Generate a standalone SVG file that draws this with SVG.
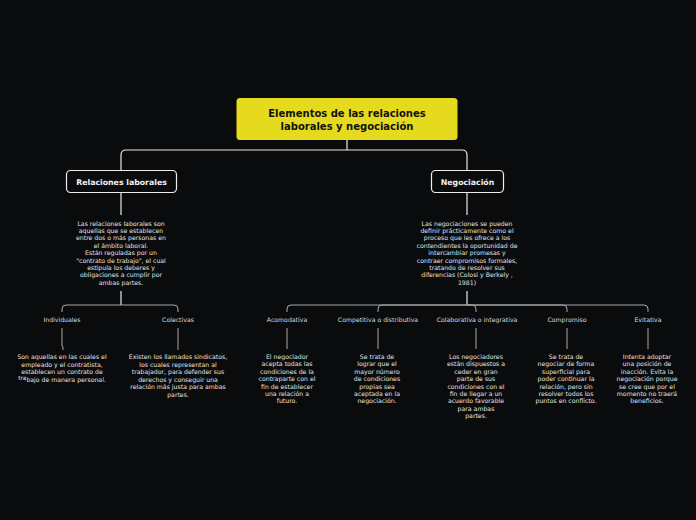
<svg xmlns="http://www.w3.org/2000/svg" width="696" height="520" viewBox="0 0 696 520">
<style>
.bg{fill:#0a0b0d}
.c1{fill:none;stroke:#e8e8e8;stroke-width:1.2}
.c2{fill:none;stroke:#a8a8a8;stroke-width:1}
.box{fill:#0a0b0d;stroke:#ededed;stroke-width:1.2}
.root{fill:#e6da1e}
.rt{font-family:"DejaVu Sans",Verdana,sans-serif;font-weight:bold;font-size:10px;fill:#111;text-anchor:middle}
.bt{font-family:"DejaVu Sans",Verdana,sans-serif;font-weight:bold;font-size:7.8px;fill:#f2f2f2;text-anchor:middle}
.lb{font-family:"DejaVu Sans",Verdana,sans-serif;font-size:6.2px;fill:#dcdcdc;text-anchor:middle}
.tx{font-family:"DejaVu Sans",Verdana,sans-serif;font-size:6.2px;fill:#e4e4e4;text-anchor:middle}
</style>
<rect class="bg" x="0" y="0" width="696" height="520"/>
<g id="connectors">
<path class="c1" d="M347,140 V150 M347,150 H126 Q121,150 121,155 V171 M347,150 H462 Q467,150 467,155 V171"/>
<path class="c1" d="M121,192 V215 M121,291 V305 M467,192 V215 M467,291 V305"/>
<path class="c2" d="M121,305 H66 Q62,305 62,309 V312 M121,305 H174 Q178,305 178,309 V312"/>
<path class="c2" d="M467,305 H291 Q287,305 287,309 V312 M467,305 H382 Q378,305 378,309 V312 M467,305 H472 Q476,305 476,309 V312 M467,305 H563 Q567,305 567,309 V312 M467,305 H644 Q648,305 648,309 V312"/>
<path class="c2" d="M62,328 V346 L63,347 V350 M178,328 V350 M287,328 V349 M378,328 V349 M476,328 V349 M567,328 V349 M648,328 V349"/>
</g>
<g id="root">
<rect class="root" x="236.5" y="98" width="221" height="42" rx="3.5"/>
<text class="rt" x="347" y="117">Elementos de las relaciones</text>
<text class="rt" x="347" y="129.5">laborales y negociación</text>
</g>
<g id="relaciones">
<rect class="box" x="66.5" y="170.5" width="110" height="22" rx="4"/>
<text class="bt" x="121.5" y="184.5">Relaciones laborales</text>
</g>
<g id="relaciones-texto">
<text class="tx" x="121" y="225.5">Las relaciones laborales son</text>
<text class="tx" x="121" y="232.9">aquellas que se establecen</text>
<text class="tx" x="121" y="240.3">entre dos o más personas en</text>
<text class="tx" x="121" y="247.7">el ámbito laboral.</text>
<text class="tx" x="121" y="255.1">Están reguladas por un</text>
<text class="tx" x="121" y="262.5">"contrato de trabajo", el cual</text>
<text class="tx" x="121" y="269.9">estipula los deberes y</text>
<text class="tx" x="121" y="277.3">obligaciones a cumplir por</text>
<text class="tx" x="121" y="284.7">ambas partes.</text>
</g>
<g id="negociacion">
<rect class="box" x="431.5" y="170.5" width="72" height="22" rx="4"/>
<text class="bt" x="467.5" y="184.5">Negociación</text>
</g>
<g id="negociacion-texto">
<text class="tx" x="467" y="225.5">Las negociaciones se pueden</text>
<text class="tx" x="467" y="232.9">definir prácticamente como el</text>
<text class="tx" x="467" y="240.3">proceso que les ofrece a los</text>
<text class="tx" x="467" y="247.7">contendientes la oportunidad de</text>
<text class="tx" x="467" y="255.1">intercambiar promesas y</text>
<text class="tx" x="467" y="262.5">contraer compromisos formales,</text>
<text class="tx" x="467" y="269.9">tratando de resolver sus</text>
<text class="tx" x="467" y="277.3">diferencias (Colosi y Berkely ,</text>
<text class="tx" x="467" y="284.7">1981)</text>
</g>
<g id="individuales">
<text class="lb" x="62" y="321.5">Individuales</text>
<text class="tx" x="62" y="359">Son aquellas en las cuales el</text>
<text class="tx" x="62" y="366.5">empleado y el contratista,</text>
<text class="tx" x="62" y="374">establecen un contrato de</text>
<text class="tx" x="62" y="381.5"><tspan font-size="5.8" dy="-1.5">tra</tspan><tspan dy="1.5">bajo de manera personal.</tspan></text>
</g>
<g id="colectivas">
<text class="lb" x="178" y="321.5">Colectivas</text>
<text class="tx" x="178" y="359">Existen los llamados sindicatos,</text>
<text class="tx" x="178" y="366.5">los cuales representan al</text>
<text class="tx" x="178" y="374">trabajador, para defender sus</text>
<text class="tx" x="178" y="381.5">derechos y conseguir una</text>
<text class="tx" x="178" y="389">relación más justa para ambas</text>
<text class="tx" x="178" y="396.5">partes.</text>
</g>
<g id="acomodativa">
<text class="lb" x="287" y="321.5">Acomodativa</text>
<text class="tx" x="287" y="359">El negociador</text>
<text class="tx" x="287" y="366.4">acepta todas las</text>
<text class="tx" x="287" y="373.8">condiciones de la</text>
<text class="tx" x="287" y="381.2">contraparte con el</text>
<text class="tx" x="287" y="388.6">fin de establecer</text>
<text class="tx" x="287" y="396">una relación a</text>
<text class="tx" x="287" y="403.4">futuro.</text>
</g>
<g id="competitiva">
<text class="lb" x="378" y="321.5">Competitiva o distributiva</text>
<text class="tx" x="377" y="359">Se trata de</text>
<text class="tx" x="377" y="366.4">lograr que el</text>
<text class="tx" x="377" y="373.8">mayor número</text>
<text class="tx" x="377" y="381.2">de condiciones</text>
<text class="tx" x="377" y="388.6">propias sea</text>
<text class="tx" x="377" y="396">aceptada en la</text>
<text class="tx" x="377" y="403.4">negociación.</text>
</g>
<g id="colaborativa">
<text class="lb" x="477" y="321.5">Colaborativa o integrativa</text>
<text class="tx" x="476" y="359">Los negociadores</text>
<text class="tx" x="476" y="366.4">están dispuestos a</text>
<text class="tx" x="476" y="373.8">ceder en gran</text>
<text class="tx" x="476" y="381.2">parte de sus</text>
<text class="tx" x="476" y="388.6">condiciones con el</text>
<text class="tx" x="476" y="396">fin de llegar a un</text>
<text class="tx" x="476" y="403.4">acuerdo favorable</text>
<text class="tx" x="476" y="410.8">para ambas</text>
<text class="tx" x="476" y="418.2">partes.</text>
</g>
<g id="compromiso">
<text class="lb" x="567" y="321.5">Compromiso</text>
<text class="tx" x="566" y="359">Se trata de</text>
<text class="tx" x="566" y="366.4">negociar de forma</text>
<text class="tx" x="566" y="373.8">superficial para</text>
<text class="tx" x="566" y="381.2">poder continuar la</text>
<text class="tx" x="566" y="388.6">relación, pero sin</text>
<text class="tx" x="566" y="396">resolver todos los</text>
<text class="tx" x="566" y="403.4">puntos en conflicto.</text>
</g>
<g id="evitativa">
<text class="lb" x="648" y="321.5">Evitativa</text>
<text class="tx" x="647" y="359">Intenta adoptar</text>
<text class="tx" x="647" y="366.4">una posición de</text>
<text class="tx" x="647" y="373.8">inacción. Evita la</text>
<text class="tx" x="647" y="381.2">negociación porque</text>
<text class="tx" x="647" y="388.6">se cree que por el</text>
<text class="tx" x="647" y="396">momento no traerá</text>
<text class="tx" x="647" y="403.4">beneficios.</text>
</g>
</svg>
